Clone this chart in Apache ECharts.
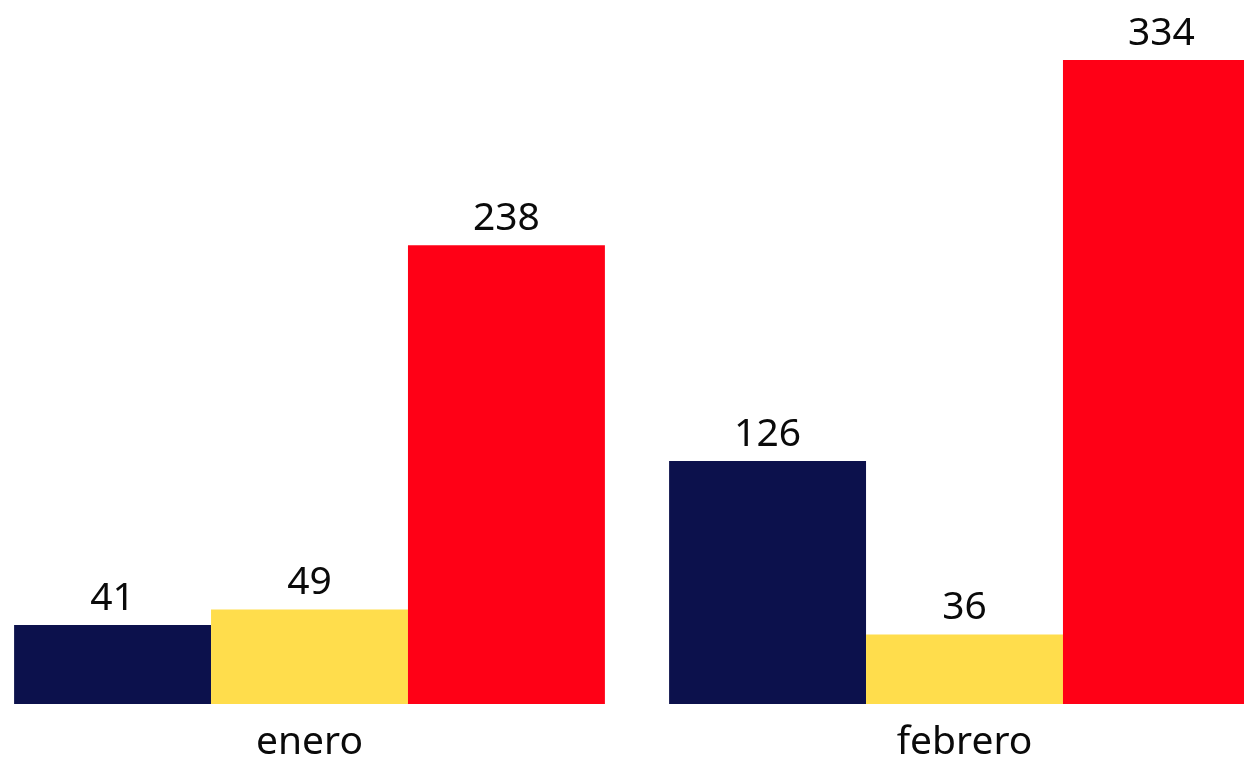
<!DOCTYPE html>
<html>
<head>
<meta charset="utf-8">
<script src="https://cdn.jsdelivr.net/npm/echarts@6/dist/echarts.min.js"></script>
<style>
html,body{margin:0;padding:0;background:#fff;}
#wrap{position:relative;width:1244px;height:758px;overflow:hidden;}
#c{position:absolute;left:-18px;top:0;width:1310px;height:758px;}
</style>
</head>
<body>
<div id="wrap"><div id="c"></div></div>
<script>
const categories = ['enero', 'febrero'];
const serieA = [41, 126];
const serieB = [49, 36];
const serieC = [238, 334];
const colors = ['#0C114C', '#FFDD4C', '#FF0016'];

const chart = echarts.init(document.getElementById('c'), null, {renderer: 'canvas'});
const font = '"Noto Sans", sans-serif';
const labelCfg = {show: true, position: 'top', distance: 7, color: '#0a0a0a', fontSize: 39, fontFamily: font};
function mk(name, data, color) {
  return {name, type: 'bar', data, barGap: 0, barCategoryGap: '9.8%',
    itemStyle: {color}, label: labelCfg, silent: true};
}
chart.setOption({
  animation: false,
  grid: {left: 0, right: 0, top: 10, bottom: 54, containLabel: false, outerBoundsMode: 'none'},
  xAxis: {type: 'category', data: categories,
    axisLine: {show: false}, axisTick: {show: false},
    axisLabel: {fontSize: 39, color: '#0a0a0a', fontFamily: font, margin: 19}},
  yAxis: {type: 'value', min: 0, max: 360, show: false, splitLine: {show: false}},
  series: [mk('a', serieA, colors[0]), mk('b', serieB, colors[1]), mk('c', serieC, colors[2])]
});
</script>
</body>
</html>
